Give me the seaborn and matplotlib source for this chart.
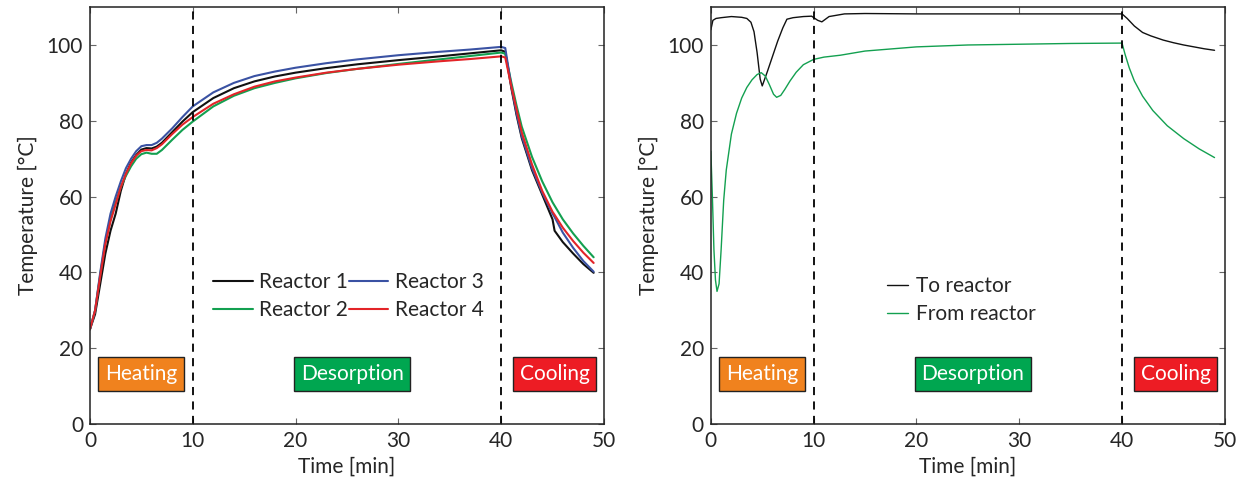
import numpy as np
import pandas as pd
import matplotlib
matplotlib.use("Agg")
import matplotlib.pyplot as plt
import seaborn as sns

# ---------------- data ----------------
t_left = [0, 0.5, 1, 1.5, 2, 2.5, 3, 3.5, 4, 4.5, 5, 5.5, 6, 6.5, 7, 8, 9, 10, 12, 14, 16,
          18, 20, 23, 26, 30, 34, 37, 40, 40.4, 41, 41.5, 42, 43, 44, 45, 45.2, 46, 47, 48, 49]

reactor1 = [25, 29, 37, 45, 51, 55.5, 61.5, 66, 69, 71, 72.4, 72.8, 72.7, 73.2, 74.2, 77, 79.8, 82.3, 86, 88.6, 90.4,
            91.7, 92.7, 93.9, 94.9, 96, 97, 97.8, 98.6, 98.2, 88.5, 81.5, 75.5, 67, 60.5, 54, 51, 48, 45, 42.2, 39.9]
reactor2 = [25, 30, 39.5, 48, 54, 58.5, 62.5, 65.5, 68, 70, 71.2, 71.6, 71.3, 71.3, 72.3, 75, 77.6, 79.8, 83.8, 86.6, 88.6,
            90, 91.2, 92.6, 93.7, 95, 96.2, 97.1, 98, 97.7, 90, 84, 78.5, 70.5, 64, 58.5, 57.6, 54, 50.3, 47, 44]
reactor3 = [25, 30, 40, 49, 55.5, 60, 64, 67.5, 70, 72, 73.3, 73.6, 73.6, 74.2, 75.3, 78, 81, 83.8, 87.5, 90, 91.8,
            93, 94, 95.2, 96.2, 97.3, 98.2, 98.8, 99.5, 99.2, 89, 82, 76, 67.5, 61, 55.5, 54.6, 50.5, 46.5, 43, 40.2]
reactor4 = [25, 30, 39, 47.5, 53.5, 58, 62.5, 66, 68.8, 70.8, 72, 72.3, 72.2, 72.8, 73.8, 76.5, 79, 81, 84.5, 87, 89,
            90.4, 91.4, 92.7, 93.7, 94.8, 95.7, 96.3, 97, 96.7, 89, 83, 77, 68.5, 61.5, 56, 55.2, 51.8, 48.3, 45.2, 42.5]

t_to = [0, 0.2, 0.5, 1, 2, 3, 3.5, 3.9, 4.2, 4.5, 4.8, 5.0, 5.5, 6, 6.5, 7, 7.4, 8, 9, 9.8, 10.4, 10.8,
        11.5, 13, 15, 20, 30, 40, 40.5, 41.2, 42, 42.8, 44, 45, 46, 47, 48, 49]
to_reactor = [104, 106.5, 107, 107.2, 107.5, 107.3, 107, 106, 103.5, 98, 91, 89.2, 93, 97, 101, 104.5, 106.8, 107.2,
              107.5, 107.6, 106.5, 106.1, 107.5, 108.2, 108.3, 108.2, 108.2, 108.2, 107, 105, 103.3, 102.4, 101.3,
              100.6, 100.0, 99.5, 99.0, 98.6]

t_from = [0, 0.15, 0.3, 0.45, 0.6, 0.8, 1.0, 1.25, 1.5, 2, 2.5, 3, 3.5, 4, 4.5, 4.9, 5.3, 5.7, 6.1, 6.4, 6.8,
          7.2, 7.7, 8.3, 9, 10, 11, 12.6, 15, 20, 25, 30, 35, 40, 40.3, 40.7, 41.2, 42, 43, 44.4, 46, 47.5, 49]
from_reactor = [72, 60, 46, 38, 35, 37, 46, 59, 67, 76.5, 82, 86, 88.8, 90.8, 92.2, 92.7, 91.8, 89.5, 87, 86.2, 86.7,
                88.3, 90.5, 92.8, 94.8, 96.2, 96.8, 97.3, 98.4, 99.5, 100, 100.2, 100.4, 100.5, 97.5, 94, 90.5,
                86.5, 82.7, 78.7, 75.3, 72.6, 70.3]

phase_names = ["Heating", "Desorption", "Cooling"]
phase_x = [5.0, 25.5, 45.2]
phase_colors = ["#f0821e", "#00a650", "#ed1c24"]
phase_bounds = [10, 40]

# ---------------- style ----------------
sns.set_style("ticks", {"xtick.direction": "in", "ytick.direction": "in"})
plt.rcParams["font.family"] = ["Lato", "DejaVu Sans"]
plt.rcParams["font.size"] = 15
plt.rcParams["axes.linewidth"] = 1.1
plt.rcParams["axes.edgecolor"] = "#222222"
plt.rcParams["xtick.major.size"] = 4
plt.rcParams["ytick.major.size"] = 4

fig = plt.figure(figsize=(12.46, 4.88), dpi=100)
ax1 = fig.add_axes([0.0722, 0.131, 0.4125, 0.8545])
ax2 = fig.add_axes([0.5705, 0.131, 0.4125, 0.8545])

# left panel
left = pd.DataFrame({"t": t_left, "Reactor 1": reactor1, "Reactor 2": reactor2,
                     "Reactor 3": reactor3, "Reactor 4": reactor4})
left_colors = {"Reactor 1": "#111111", "Reactor 2": "#13a050",
               "Reactor 3": "#3a52a3", "Reactor 4": "#e32428"}
for name in ["Reactor 1", "Reactor 2", "Reactor 3", "Reactor 4"]:
    sns.lineplot(data=left, x="t", y=name, ax=ax1, color=left_colors[name], label=name,
                 linewidth=1.5, sort=False, estimator=None)

# right panel
sns.lineplot(x=t_to, y=to_reactor, ax=ax2, color="#111111", label="To reactor",
             linewidth=1.0, sort=False, estimator=None)
sns.lineplot(x=t_from, y=from_reactor, ax=ax2, color="#13a050", label="From reactor",
             linewidth=1.0, sort=False, estimator=None)

for ax in [ax1, ax2]:
    ax.set_xlim(0, 50)
    ax.set_ylim(0, 110)
    ax.set_xticks([0, 10, 20, 30, 40, 50])
    ax.set_yticks([0, 20, 40, 60, 80, 100])
    ax.tick_params(top=True, right=True, labelsize=15, width=0.8, color="#666666", pad=5)
    ax.set_xlabel("Time [min]", fontsize=15, labelpad=4)
    ax.set_ylabel("Temperature [°C]", fontsize=15, labelpad=6)
    for b in phase_bounds:
        ax.axvline(b, color="black", linestyle=(0, (4.5, 3.5)), linewidth=1.3)
    for name, x, c in zip(phase_names, phase_x, phase_colors):
        ax.text(x, 13.3, name, color="white", fontsize=15, ha="center", va="center",
                bbox=dict(boxstyle="square,pad=0.33", facecolor=c, edgecolor="#222222", linewidth=1.0))

ax1.legend(loc="upper left", bbox_to_anchor=(0.215, 0.395), ncol=2, frameon=False,
           handlelength=1.9, handletextpad=0.3, columnspacing=0.05, labelspacing=0.4, fontsize=15,
           borderaxespad=0.2)
ax2.legend(loc="upper left", bbox_to_anchor=(0.318, 0.385), frameon=False,
           handlelength=1.0, handletextpad=0.4, labelspacing=0.4, fontsize=15, borderaxespad=0.2)

fig.savefig("out.png", dpi=100)
